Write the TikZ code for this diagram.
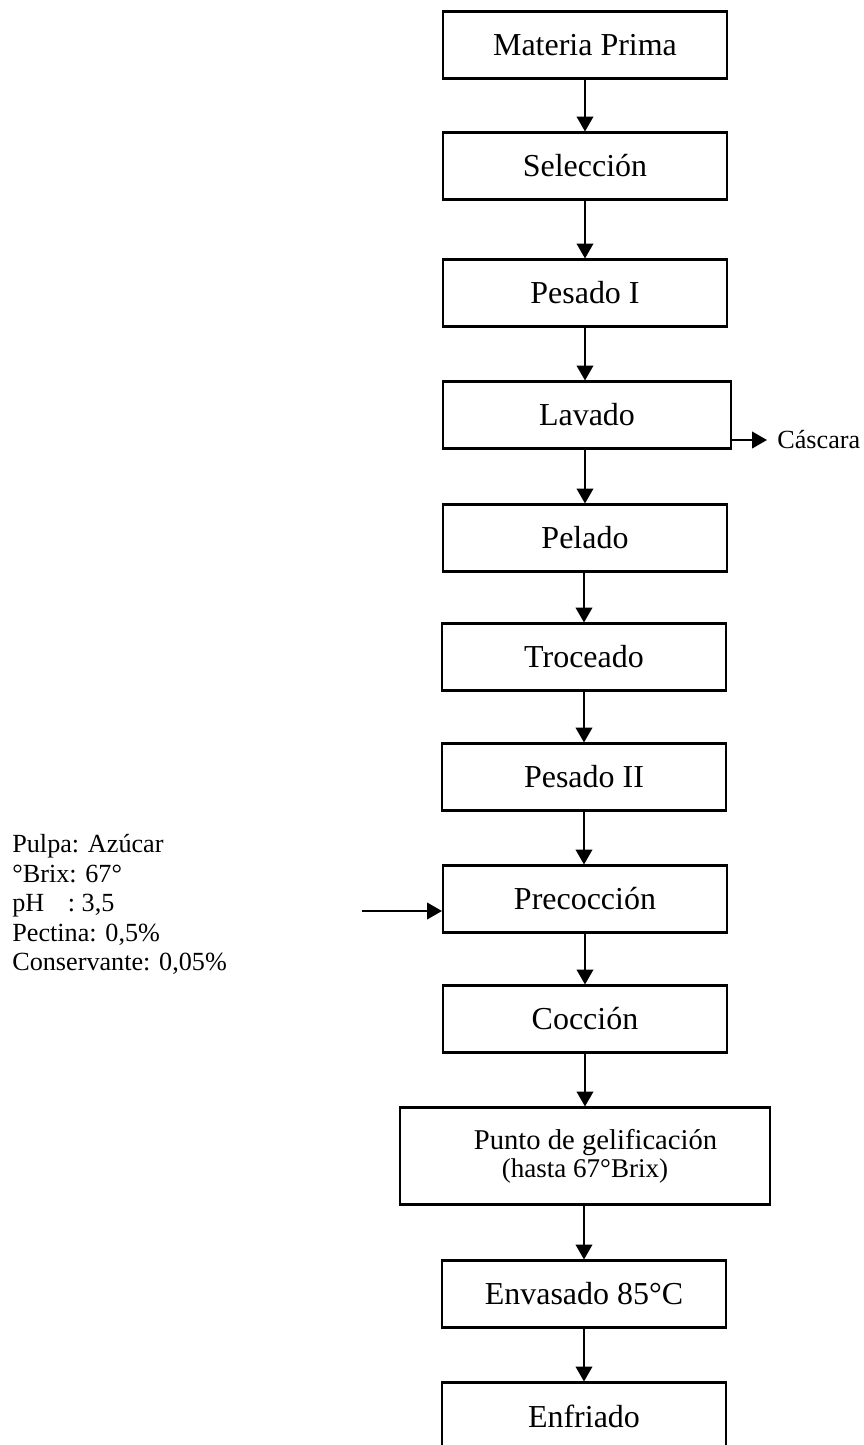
\documentclass[tikz,border=0pt]{standalone}
\usepackage{fontspec}
\setmainfont{Liberation Serif}
\usetikzlibrary{arrows.meta}

\begin{document}
\begin{tikzpicture}[
  x=0.02cm,
  y=-0.02cm,
  box/.style={draw, line width=1.2pt, minimum width=5.68cm, minimum height=1.34cm,
    inner sep=0pt, font=\fontsize{18.2}{21}\selectfont},
  flow/.style={line width=1pt, -{Triangle[length=8.5pt,width=9.5pt]}},
  note/.style={inner sep=0pt, font=\fontsize{14.9}{16.8}\selectfont}
]
  \useasboundingbox (0,0) rectangle (864,1445);

  \node[box] (mat) at (585,45) {Materia Prima};
  \node[box] (sel) at (585,166) {Selección};
  \node[box] (pes1) at (585,293) {Pesado I};
  \node[box, minimum width=5.76cm] (lav) at (587,415) {Lavado};
  \node[box] (pel) at (585,538) {Pelado};
  \node[box] (tro) at (584,657) {Troceado};
  \node[box] (pes2) at (584,777) {Pesado II};
  \node[box] (pre) at (585,899) {Precocción};
  \node[box] (coc) at (585,1019) {Cocción};
  \node[box, minimum width=7.4cm, minimum height=1.94cm, align=center] (pun) at (585,1156)
    {\hspace{12pt}{\fontsize{16.3}{18}\selectfont Punto de gelificación}\\[-5pt]
     {\fontsize{15.4}{16}\selectfont (hasta 67°Brix)}};
  \node[box] (env) at (584,1294) {Envasado 85°C};
  \node[box] (enf) at (584,1416) {Enfriado};

  \node[note, anchor=west, inner xsep=5.7pt] (casc) at (767,440) {Cáscara};
  \node[note, anchor=north west, align=left] (ing) at (12,834)
    {Pulpa: Azúcar\\°Brix: 67°\\pH\hspace{0.9em}: 3,5\\Pectina: 0,5\%\\Conservante: 0,05\%};
  \coordinate (feed) at (362,911);

  % các mũi tên
  \draw[flow] (mat.south) -- (sel.north);
  \draw[flow] (sel.south) -- (pes1.north);
  \draw[flow] (pes1.south) -- (lav.north -| pes1.south);
  \draw[flow] (lav.south -| pel.north) -- (pel.north);
  \draw[flow] (pel.south -| tro.north) -- (tro.north);
  \draw[flow] (tro.south) -- (pes2.north);
  \draw[flow] (pes2.south) -- (pre.north -| pes2.south);
  \draw[flow] (pre.south) -- (coc.north);
  \draw[flow] (coc.south) -- (pun.north);
  \draw[flow] (pun.south -| env.north) -- (env.north);
  \draw[flow] (env.south) -- (enf.north);
  \draw[flow] (lav.east |- casc.west) -- (casc.west);
  \draw[flow] (feed) -- (pre.west |- feed);
\end{tikzpicture}
\end{document}
